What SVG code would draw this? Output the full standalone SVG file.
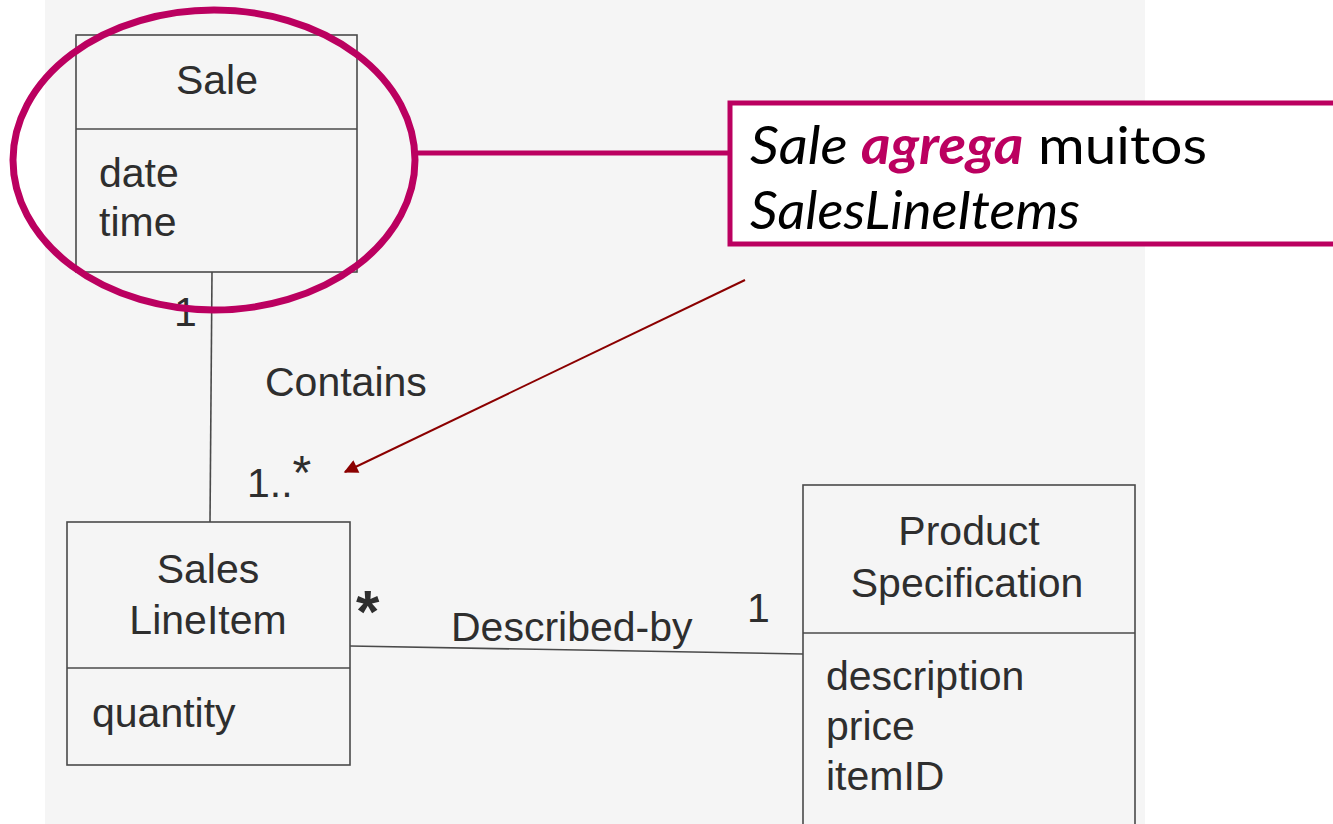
<svg xmlns="http://www.w3.org/2000/svg" width="1333" height="824" viewBox="0 0 1333 824">
<defs>
<style>
.bx{fill:none;stroke:#4a4a4a;stroke-width:1.6}
.ln{stroke:#4a4a4a;stroke-width:1.6;fill:none}
.t{font-family:"Liberation Sans",Arial,sans-serif;font-size:41px;fill:#2e2e2e}
.c{text-anchor:middle}
.call{font-family:Lato,"Open Sans",sans-serif;font-size:53px;fill:#000}
.mag{stroke:#bb0060;fill:none}
</style>
<marker id="ah" viewBox="0 0 10 10" refX="9" refY="5" markerWidth="9" markerHeight="7" orient="auto" markerUnits="strokeWidth">
<path d="M0,0 L10,5 L0,10 z" fill="#8b0000"/>
</marker>
</defs>
<rect x="0" y="0" width="1333" height="824" fill="#ffffff"/>
<rect x="45" y="0" width="1100" height="824" fill="#f5f5f5"/>
<g id="connectors">
<line class="ln" x1="212" y1="272" x2="210" y2="522"/>
<line class="ln" x1="350" y1="646" x2="803" y2="654"/>
<text class="t" x="174" y="326">1</text>
<text class="t" x="265" y="396">Contains</text>
<text class="t" x="247" y="497">1..<tspan dy="-8" style="font-size:48px">*</tspan></text>
<text class="t" x="356" y="632" style="font-size:60px;font-weight:bold">*</text>
<text class="t" x="451" y="641">Described-by</text>
<text class="t" x="747" y="622">1</text>
</g>
<g id="sale">
<rect class="bx" x="76" y="35" width="281" height="237" fill="#f8f8f8"/>
<line class="ln" x1="76" y1="129" x2="357" y2="129"/>
<text class="t c" x="217" y="94">Sale</text>
<text class="t" x="99" y="187">date</text>
<text class="t" x="99" y="236">time</text>
</g>
<g id="saleslineitem">
<rect class="bx" x="67" y="522" width="283" height="243" fill="#f8f8f8"/>
<line class="ln" x1="67" y1="668" x2="350" y2="668"/>
<text class="t c" x="208" y="583">Sales</text>
<text class="t c" x="208" y="634">LineItem</text>
<text class="t" x="92" y="727">quantity</text>
</g>
<g id="productspec">
<rect class="bx" x="803" y="485" width="332" height="345" fill="#f8f8f8"/>
<line class="ln" x1="803" y1="633" x2="1135" y2="633"/>
<text class="t c" x="969" y="545">Product</text>
<text class="t c" x="967" y="597">Specification</text>
<text class="t" x="826" y="690">description</text>
<text class="t" x="826" y="740">price</text>
<text class="t" x="826" y="790">itemID</text>
</g>
<g id="highlight">
<ellipse class="mag" cx="214" cy="160" rx="201" ry="150" stroke-width="7"/>
<line class="mag" x1="415" y1="153" x2="730" y2="153" stroke-width="5"/>
</g>
<g id="callout">
<rect x="730" y="103" width="620" height="141" fill="#ffffff" stroke="#bb0060" stroke-width="5"/>
<text class="call" x="750" y="164" textLength="457" lengthAdjust="spacingAndGlyphs"><tspan font-style="italic">Sale </tspan><tspan font-style="italic" font-weight="bold" fill="#bb0060">agrega</tspan><tspan> muitos</tspan></text>
<text class="call" x="750" y="229" font-style="italic" textLength="330" lengthAdjust="spacingAndGlyphs">SalesLineItems</text>
</g>
<g id="pointer">
<line x1="745" y1="280" x2="345" y2="472" stroke="#8b0000" stroke-width="2" marker-end="url(#ah)"/>
</g>
</svg>
